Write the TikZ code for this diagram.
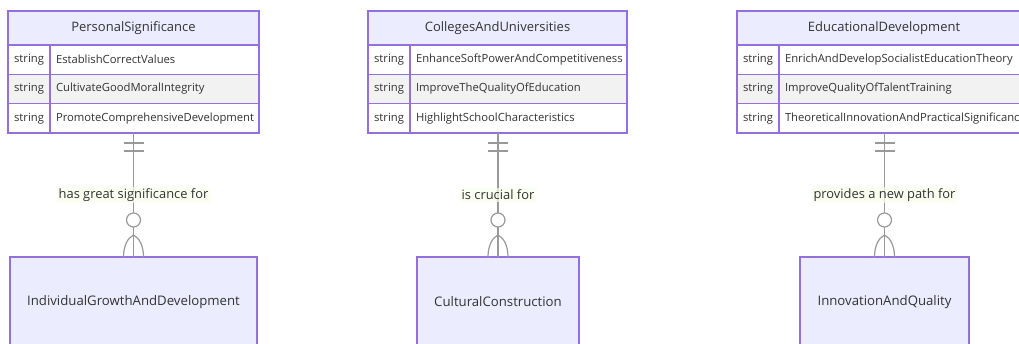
\documentclass[tikz,border=0pt]{standalone}
\usepackage{fontspec}
\setmainfont{Open Sans}
\usetikzlibrary{positioning}
\definecolor{erBorder}{HTML}{9370DB}
\definecolor{erFill}{HTML}{ECECFF}
\definecolor{rowGray}{HTML}{F2F2F2}
\definecolor{lineGray}{HTML}{999999}
\definecolor{labelBg}{HTML}{F9FFEC}
\definecolor{textGray}{HTML}{333333}
\tikzstyle{head} = [rectangle, draw=erBorder, fill=erFill, line width=1.2pt, minimum height=34pt, inner sep=0pt, outer sep=0pt, text=textGray, font=\fontsize{13}{15}\selectfont]
\tikzstyle{cell} = [rectangle, draw=erBorder, fill=white, line width=1.2pt, minimum height=29.33pt, inner ysep=0pt, inner xsep=6pt, outer sep=0pt, text=textGray, font=\fontsize{11.25}{13}\selectfont]
\tikzstyle{typeCell} = [cell, inner xsep=0pt, minimum width=42pt]
\tikzstyle{nameCell} = [cell, align=left]
\tikzstyle{grayRow} = [fill=rowGray]
\tikzstyle{entity} = [rectangle, draw=erBorder, fill=erFill, line width=1.2pt, minimum height=90pt, inner sep=0pt, outer sep=0pt, text=textGray, font=\fontsize{13.2}{15}\selectfont]
\tikzstyle{rel} = [draw=lineGray, line width=1.2pt]
\tikzstyle{relLabel} = [fill=labelBg, fill opacity=0.7, text opacity=1, inner sep=2pt, text=textGray, font=\fontsize{12.9}{15}\selectfont]

\begin{document}
\begin{tikzpicture}[x=1pt, y=-1pt]
\useasboundingbox (0,0) rectangle (1019,344);
\clip (0,0) rectangle (1019,344);
\fill[white] (0,0) rectangle (1019,344);

% PersonalSignificance
\node (psHead) [head, minimum width=251pt, anchor=north west] at (8,11) {PersonalSignificance};
\node (psT1) [typeCell, below right=0pt and 0pt of psHead.south west] {string};
\node (psN1) [nameCell, text width=197pt, right=0pt of psT1] {EstablishCorrectValues};
\node (psT2) [typeCell, grayRow, below=0pt of psT1] {string};
\node (psN2) [nameCell, grayRow, text width=197pt, right=0pt of psT2] {CultivateGoodMoralIntegrity};
\node (psT3) [typeCell, below=0pt of psT2] {string};
\node (psN3) [nameCell, text width=197pt, right=0pt of psT3] {PromoteComprehensiveDevelopment};

% CollegesAndUniversities
\node (cuHead) [head, minimum width=259pt, anchor=north west] at (368,11) {CollegesAndUniversities};
\node (cuT1) [typeCell, below right=0pt and 0pt of cuHead.south west] {string};
\node (cuN1) [nameCell, text width=205pt, right=0pt of cuT1] {EnhanceSoftPowerAndCompetitiveness};
\node (cuT2) [typeCell, grayRow, below=0pt of cuT1] {string};
\node (cuN2) [nameCell, grayRow, text width=205pt, right=0pt of cuT2] {ImproveTheQualityOfEducation};
\node (cuT3) [typeCell, below=0pt of cuT2] {string};
\node (cuN3) [nameCell, text width=205pt, right=0pt of cuT3] {HighlightSchoolCharacteristics};

% EducationalDevelopment
\node (edHead) [head, minimum width=294pt, anchor=north west] at (737,11) {EducationalDevelopment};
\node (edT1) [typeCell, below right=0pt and 0pt of edHead.south west] {string};
\node (edN1) [nameCell, text width=240pt, right=0pt of edT1] {EnrichAndDevelopSocialistEducationTheory};
\node (edT2) [typeCell, grayRow, below=0pt of edT1] {string};
\node (edN2) [nameCell, grayRow, text width=240pt, right=0pt of edT2] {ImproveQualityOfTalentTraining};
\node (edT3) [typeCell, below=0pt of edT2] {string};
\node (edN3) [nameCell, text width=240pt, right=0pt of edT3] {TheoreticalInnovationAndPracticalSignificance};

% entities below
\node (growth) [entity, minimum width=247pt, anchor=north west] at (10,257) {IndividualGrowthAndDevelopment};
\node (culture) [entity, minimum width=162pt, anchor=north west] at (417,257) {CulturalConstruction};
\node (innovation) [entity, minimum width=169pt, anchor=north west] at (800,257) {InnovationAndQuality};

% relationships
\draw [rel] (growth.north |- psT3.south) -- node[relLabel] {has great significance for} (growth.north);
\draw [rel] (culture.north |- cuT3.south) -- node[relLabel] {is crucial for} (culture.north);
\draw [rel] (innovation.north |- edT3.south) -- node[relLabel] {provides a new path for} (innovation.north);

% exactly one / zero or more markers
\begin{scope}[rel, shift={(growth.north |- psT3.south)}]
  \draw (-10,10) -- (10,10) (-10,18) -- (10,18);
\end{scope}
\begin{scope}[rel, shift={(culture.north |- cuT3.south)}]
  \draw (-10,10) -- (10,10) (-10,18) -- (10,18);
\end{scope}
\begin{scope}[rel, shift={(innovation.north |- edT3.south)}]
  \draw (-10,10) -- (10,10) (-10,18) -- (10,18);
\end{scope}
\begin{scope}[rel, shift={(growth.north)}]
  \draw[fill=white] (0,-37) circle (7pt);
  \draw (0,-22) .. controls (-6,-19) and (-10,-11) .. (-10,0) (0,-22) .. controls (6,-19) and (10,-11) .. (10,0);
\end{scope}
\begin{scope}[rel, shift={(culture.north)}]
  \draw[fill=white] (0,-37) circle (7pt);
  \draw (0,-22) .. controls (-6,-19) and (-10,-11) .. (-10,0) (0,-22) .. controls (6,-19) and (10,-11) .. (10,0);
\end{scope}
\begin{scope}[rel, shift={(innovation.north)}]
  \draw[fill=white] (0,-37) circle (7pt);
  \draw (0,-22) .. controls (-6,-19) and (-10,-11) .. (-10,0) (0,-22) .. controls (6,-19) and (10,-11) .. (10,0);
\end{scope}
\end{tikzpicture}
\end{document}
